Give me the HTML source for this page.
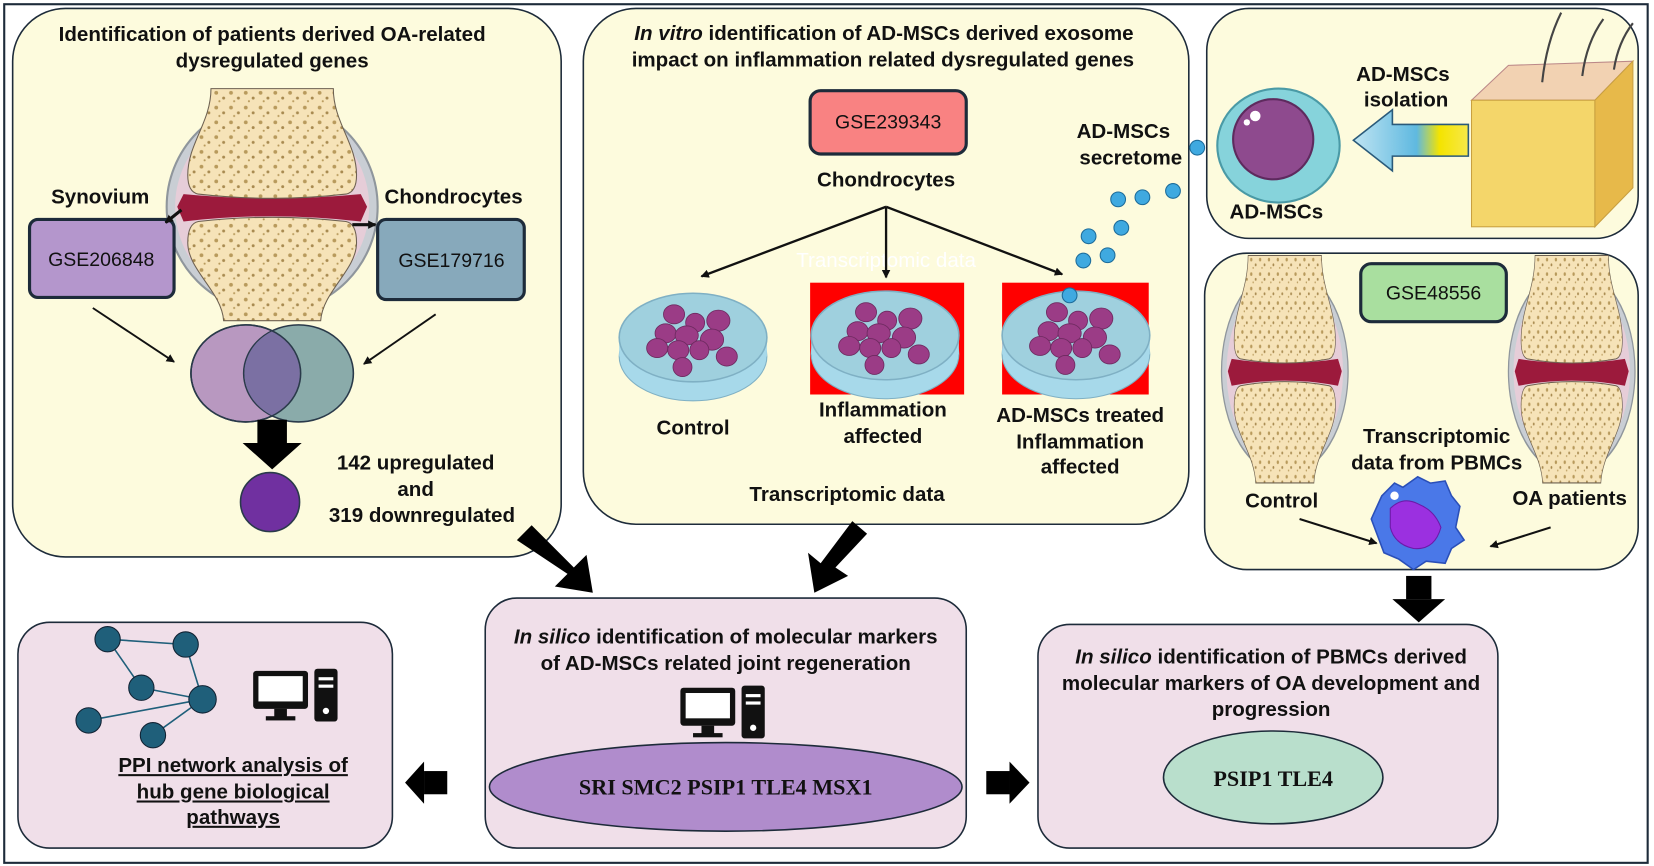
<!DOCTYPE html>
<html><head><meta charset="utf-8"><style>
html,body{margin:0;padding:0;background:#fff;width:1654px;height:866px;overflow:hidden}
svg{display:block}
text{font-family:"Liberation Sans",sans-serif;font-weight:bold;fill:#111;font-size:19.5px}
.n{font-weight:normal;font-size:18.5px}
.s{font-family:"Liberation Serif",serif;font-size:21px}
</style></head><body>
<svg width="1654" height="866" viewBox="0 0 1568 821" preserveAspectRatio="none" xmlns="http://www.w3.org/2000/svg">
<defs>
<pattern id="dots" width="14" height="14" patternUnits="userSpaceOnUse">
<rect width="14" height="14" fill="#f6e3b8"/>
<circle cx="3" cy="4" r="1.8" fill="#b89a5c"/><circle cx="10" cy="9" r="1.4" fill="#a88a50"/><circle cx="6" cy="12" r="1" fill="#b89a5c"/>
</pattern>
<linearGradient id="ag" x1="0" x2="1"><stop offset="0" stop-color="#bfe4f2"/><stop offset="0.55" stop-color="#5fb9e0"/><stop offset="0.75" stop-color="#f4e400"/><stop offset="1" stop-color="#f7e84a"/></linearGradient>
<marker id="ah" markerWidth="8" markerHeight="8" refX="7" refY="4" orient="auto" markerUnits="userSpaceOnUse"><path d="M0,0 L8,4 L0,8 Z" fill="#111"/></marker>
<g id="joint">
<ellipse cx="0" cy="0" rx="100" ry="100" fill="#c9ced4" stroke="#8f969c" stroke-width="2"/>
<ellipse cx="0" cy="0" rx="92" ry="92" fill="#e6cdd8"/>
<path d="M-84,-12 Q0,-4 84,-12 L90,0 L84,14 Q0,4 -84,14 L-90,0Z" fill="#9c1a3c"/>
<path d="M-58,-112 L58,-112 C58,-80 80,-60 80,-30 Q80,-14 70,-12 Q0,-4 -70,-12 Q-80,-14 -80,-30 C-80,-60 -58,-80 -58,-112Z" fill="url(#dots)" stroke="#6d6050" stroke-width="1"/>
<path d="M-70,14 Q0,6 70,14 Q80,16 80,34 C80,60 48,80 46,108 L-46,108 C-48,80 -80,60 -80,34 Q-80,16 -70,14Z" fill="url(#dots)" stroke="#6d6050" stroke-width="1"/>
</g>
<g id="dish">
<ellipse cx="0" cy="18" rx="70" ry="42" fill="#a7d9ea" stroke="#7fb0c4"/>
<rect x="-70" y="0" width="140" height="18" fill="#a7d9ea"/>
<ellipse cx="0" cy="0" rx="70" ry="42" fill="#9fd0de" stroke="#7fb0c4" stroke-width="1.5"/>
<g fill="#9b3c86" stroke="#6e2a60" stroke-width="0.8">
<ellipse cx="-18" cy="-22" rx="10" ry="9"/><ellipse cx="2" cy="-14" rx="9" ry="9"/><ellipse cx="24" cy="-16" rx="11" ry="10"/>
<ellipse cx="-26" cy="-4" rx="10" ry="9"/><ellipse cx="-6" cy="-2" rx="11" ry="9"/><ellipse cx="18" cy="2" rx="11" ry="10"/>
<ellipse cx="-34" cy="10" rx="10" ry="9"/><ellipse cx="-14" cy="12" rx="10" ry="9"/><ellipse cx="6" cy="12" rx="9" ry="9"/><ellipse cx="32" cy="18" rx="10" ry="9"/><ellipse cx="-10" cy="28" rx="9" ry="9"/>
</g>
</g>
<g id="pc">
<rect x="0" y="0" width="52" height="36" rx="3" fill="#111"/><rect x="5" y="5" width="42" height="24" fill="#fff"/>
<rect x="20" y="36" width="12" height="8" fill="#111"/><rect x="12" y="43" width="28" height="4" fill="#111"/>
<rect x="58" y="-2" width="22" height="50" rx="3" fill="#111"/><rect x="62" y="6" width="14" height="3" fill="#fff"/><rect x="62" y="13" width="14" height="3" fill="#fff"/><circle cx="69" cy="38" r="3" fill="#fff"/>
</g>
</defs>
<rect x="0" y="0" width="1568" height="821" fill="#fff"/>
<rect x="4" y="4" width="1558" height="814" fill="none" stroke="#1d2b3a" stroke-width="2"/>

<!-- Box1 -->
<rect x="12" y="8" width="520" height="520" rx="50" fill="#fdfbdd" stroke="#1d2b3a" stroke-width="1.5"/>
<use href="#joint" transform="translate(258,196)"/>
<text x="258" y="39" text-anchor="middle">Identification of patients derived OA-related</text>
<text x="258" y="64" text-anchor="middle">dysregulated genes</text>
<text x="95" y="193" text-anchor="middle">Synovium</text>
<text x="430" y="193" text-anchor="middle">Chondrocytes</text>
<rect x="28" y="208" width="137" height="74" rx="8" fill="#b496cc" stroke="#1d2b3a" stroke-width="3"/>
<text class="n" x="96" y="252" text-anchor="middle">GSE206848</text>
<rect x="358" y="208" width="139" height="76" rx="8" fill="#87a9bb" stroke="#1d2b3a" stroke-width="3"/>
<text class="n" x="428" y="253" text-anchor="middle">GSE179716</text>
<line x1="172" y1="199" x2="157" y2="211" stroke="#111" stroke-width="3" marker-end="url(#ah)"/>
<line x1="334" y1="213" x2="356" y2="213" stroke="#111" stroke-width="3" marker-end="url(#ah)"/>
<line x1="88" y1="292" x2="165" y2="343" stroke="#111" stroke-width="1.8" marker-end="url(#ah)"/>
<line x1="413" y1="298" x2="345" y2="345" stroke="#111" stroke-width="1.8" marker-end="url(#ah)"/>
<ellipse cx="233" cy="354" rx="52" ry="46" fill="#b898c0" stroke="#2a3a4a" stroke-width="1.5"/>
<ellipse cx="283" cy="354" rx="52" ry="46" fill="#8aabaa" stroke="#2a3a4a" stroke-width="1.5"/>
<path d="M258,314 A52,46 0 0 1 258,394 A52,46 0 0 1 258,314Z" fill="#7b70a3"/>
<ellipse cx="233" cy="354" rx="52" ry="46" fill="none" stroke="#2a3a4a" stroke-width="1.5"/>
<rect x="244" y="398" width="28" height="22" fill="#000"/><path d="M230,420 L286,420 L258,445Z" fill="#000"/>
<circle cx="256" cy="476" r="28" fill="#7030a0" stroke="#2a3a4a" stroke-width="1.5"/>
<text x="394" y="445" text-anchor="middle">142 upregulated</text>
<text x="394" y="470" text-anchor="middle">and</text>
<text x="400" y="495" text-anchor="middle">319 downregulated</text>

<!-- Box2 -->
<rect x="553" y="8" width="574" height="489" rx="50" fill="#fdfbdd" stroke="#1d2b3a" stroke-width="1.5"/>
<text x="838" y="38" text-anchor="middle"><tspan font-style="italic">In vitro</tspan> identification of AD-MSCs derived exosome</text>
<text x="837" y="63" text-anchor="middle">impact on inflammation related dysregulated genes</text>
<rect x="768" y="86" width="148" height="60" rx="10" fill="#f98282" stroke="#1d2b3a" stroke-width="3"/>
<text class="n" x="842" y="122" text-anchor="middle">GSE239343</text>
<text x="840" y="177" text-anchor="middle">Chondrocytes</text>
<rect x="768" y="268" width="146" height="106" fill="#f00"/>
<rect x="950" y="268" width="139" height="106" fill="#f00"/>
<use href="#dish" transform="translate(657,320)"/>
<use href="#dish" transform="translate(839,318)"/>
<use href="#dish" transform="translate(1020,318)"/>
<text x="840" y="253" text-anchor="middle" style="fill:#fff;font-weight:normal">Transcriptomic data</text>
<line x1="840" y1="196" x2="665" y2="262" stroke="#111" stroke-width="2.2" marker-end="url(#ah)"/>
<line x1="840" y1="196" x2="840" y2="263" stroke="#111" stroke-width="2.2" marker-end="url(#ah)"/>
<line x1="840" y1="196" x2="1007" y2="260" stroke="#111" stroke-width="2.2" marker-end="url(#ah)"/>
<text x="1065" y="131" text-anchor="middle">AD-MSCs</text>
<text x="1072" y="156" text-anchor="middle">secretome</text>
<g fill="#3fa9e0" stroke="#1d6c9a" stroke-width="1">
<circle cx="1135" cy="140" r="7"/><circle cx="1112" cy="181" r="7"/><circle cx="1083" cy="187" r="7"/><circle cx="1060" cy="189" r="7"/>
<circle cx="1063" cy="216" r="7"/><circle cx="1032" cy="224" r="7"/><circle cx="1050" cy="242" r="7"/><circle cx="1027" cy="247" r="7"/><circle cx="1014" cy="280" r="7"/>
</g>
<text x="657" y="412" text-anchor="middle">Control</text>
<text x="837" y="395" text-anchor="middle">Inflammation</text>
<text x="837" y="420" text-anchor="middle">affected</text>
<text x="1024" y="400" text-anchor="middle">AD-MSCs treated</text>
<text x="1024" y="425" text-anchor="middle">Inflammation</text>
<text x="1024" y="449" text-anchor="middle">affected</text>
<text x="803" y="475" text-anchor="middle">Transcriptomic data</text>

<!-- Box3 -->
<rect x="1144" y="8" width="409" height="218" rx="40" fill="#fdfbdd" stroke="#1d2b3a" stroke-width="1.5"/>
<ellipse cx="1212" cy="138" rx="58" ry="54" fill="#86d3db" stroke="#4a9aa6" stroke-width="2"/>
<circle cx="1207" cy="132" r="38" fill="#8e4a8e" stroke="#5e2a5e" stroke-width="2"/>
<circle cx="1190" cy="110" r="5" fill="#fff"/><circle cx="1182" cy="116" r="3" fill="#fff"/>
<path d="M1320,118 L1392,118 L1392,148 L1320,148 L1320,162 L1283,133 L1320,104Z" fill="url(#ag)" stroke="#2a5a7a" stroke-width="1.5"/>
<text x="1330" y="77" text-anchor="middle">AD-MSCs</text>
<text x="1333" y="101" text-anchor="middle">isolation</text>
<text x="1210" y="207" text-anchor="middle">AD-MSCs</text>
<path d="M1395,95 L1430,62 L1548,58 L1512,95Z" fill="#f2d2b2" stroke="#b88" stroke-width="1"/>
<rect x="1395" y="95" width="117" height="120" fill="#f4d66a" stroke="#c9a040" stroke-width="1"/>
<path d="M1512,95 L1548,58 L1548,178 L1512,215Z" fill="#e7b94a" stroke="#c9a040" stroke-width="1"/>
<path d="M1462,78 Q1466,40 1480,12 M1500,72 Q1504,40 1520,18 M1530,66 Q1534,40 1548,22" stroke="#444" stroke-width="2" fill="none"/>

<!-- Box4 -->
<rect x="1142" y="240" width="411" height="300" rx="40" fill="#fdfbdd" stroke="#1d2b3a" stroke-width="1.5"/>
<use href="#joint" transform="translate(1218,352) scale(0.6,0.98)"/>
<use href="#joint" transform="translate(1490,352) scale(0.6,0.98)"/>
<rect x="1290" y="250" width="138" height="55" rx="10" fill="#a9df9f" stroke="#1d2b3a" stroke-width="3"/>
<text class="n" x="1359" y="284" text-anchor="middle">GSE48556</text>
<text x="1362" y="420" text-anchor="middle">Transcriptomic</text>
<text x="1362" y="445" text-anchor="middle">data from PBMCs</text>
<text x="1215" y="481" text-anchor="middle">Control</text>
<text x="1488" y="479" text-anchor="middle">OA patients</text>
<path d="M1310,470 L1322,458 L1330,462 L1344,452 L1356,458 L1370,456 L1376,470 L1384,480 L1380,500 L1388,512 L1376,520 L1370,534 L1352,532 L1340,540 L1326,530 L1312,524 L1306,508 L1300,492Z" fill="#4a78e8" stroke="#2a4fb8" stroke-width="1.5"/>
<path d="M1318,482 Q1330,470 1345,478 Q1360,484 1366,500 Q1360,522 1340,520 Q1322,516 1318,500Z" fill="#9b30e0" stroke="#6b1aa8"/>
<circle cx="1322" cy="470" r="4" fill="#fff"/>
<line x1="1232" y1="492" x2="1305" y2="515" stroke="#111" stroke-width="2" marker-end="url(#ah)"/>
<line x1="1470" y1="500" x2="1413" y2="518" stroke="#111" stroke-width="2" marker-end="url(#ah)"/>

<!-- Big arrows -->
<path d="M490,512 L504,498 L544,538 L556,526 L562,562 L526,556 L538,544Z" fill="#000"/>
<path d="M822,506 L808,494 L778,534 L766,524 L772,562 L804,546 L792,538Z" fill="#000"/>
<rect x="1333" y="546" width="24" height="22" fill="#000"/><path d="M1320,568 L1370,568 L1345,590Z" fill="#000"/>
<rect x="402" y="731" width="22" height="22" fill="#000"/><path d="M402,722 L402,762 L384,742Z" fill="#000"/>
<rect x="935" y="731" width="22" height="22" fill="#000"/><path d="M957,722 L957,762 L976,742Z" fill="#000"/>

<!-- Box5 -->
<rect x="17" y="590" width="355" height="214" rx="30" fill="#f0dfe9" stroke="#1d2b3a" stroke-width="1.5"/>
<g stroke="#1f5f7a" stroke-width="1.5"><line x1="102" y1="606" x2="176" y2="611"/><line x1="102" y1="606" x2="134" y2="652"/><line x1="176" y1="611" x2="192" y2="663"/><line x1="134" y1="652" x2="192" y2="663"/><line x1="192" y1="663" x2="84" y2="683"/><line x1="192" y1="663" x2="145" y2="697"/></g>
<g fill="#1f5f7a" stroke="#123"><circle cx="102" cy="606" r="12"/><circle cx="176" cy="611" r="12"/><circle cx="134" cy="652" r="12"/><circle cx="192" cy="663" r="13"/><circle cx="84" cy="683" r="12"/><circle cx="145" cy="697" r="12"/></g>
<use href="#pc" transform="translate(240,636)"/>
<text x="221" y="732" text-anchor="middle" text-decoration="underline">PPI network analysis of</text>
<text x="221" y="757" text-anchor="middle" text-decoration="underline">hub gene biological</text>
<text x="221" y="781" text-anchor="middle" text-decoration="underline">pathways</text>

<!-- Box6 -->
<rect x="460" y="567" width="456" height="237" rx="30" fill="#f0dfe9" stroke="#1d2b3a" stroke-width="1.5"/>
<text x="688" y="610" text-anchor="middle"><tspan font-style="italic">In silico</tspan> identification of molecular markers</text>
<text x="688" y="635" text-anchor="middle">of AD-MSCs related joint regeneration</text>
<use href="#pc" transform="translate(645,652)"/>
<ellipse cx="688" cy="746" rx="224" ry="42" fill="#b08ccc" stroke="#1d2b3a" stroke-width="1.5"/>
<text class="s" x="688" y="753" text-anchor="middle">SRI SMC2 PSIP1 TLE4 MSX1</text>

<!-- Box7 -->
<rect x="984" y="592" width="436" height="212" rx="30" fill="#f0dfe9" stroke="#1d2b3a" stroke-width="1.5"/>
<text x="1205" y="629" text-anchor="middle"><tspan font-style="italic">In silico</tspan> identification of PBMCs derived</text>
<text x="1205" y="654" text-anchor="middle">molecular markers of OA development and</text>
<text x="1205" y="679" text-anchor="middle">progression</text>
<ellipse cx="1207" cy="737" rx="104" ry="44" fill="#b9dfcc" stroke="#1d2b3a" stroke-width="1.5"/>
<text class="s" x="1207" y="745" text-anchor="middle">PSIP1 TLE4</text>
</svg>
</body></html>
